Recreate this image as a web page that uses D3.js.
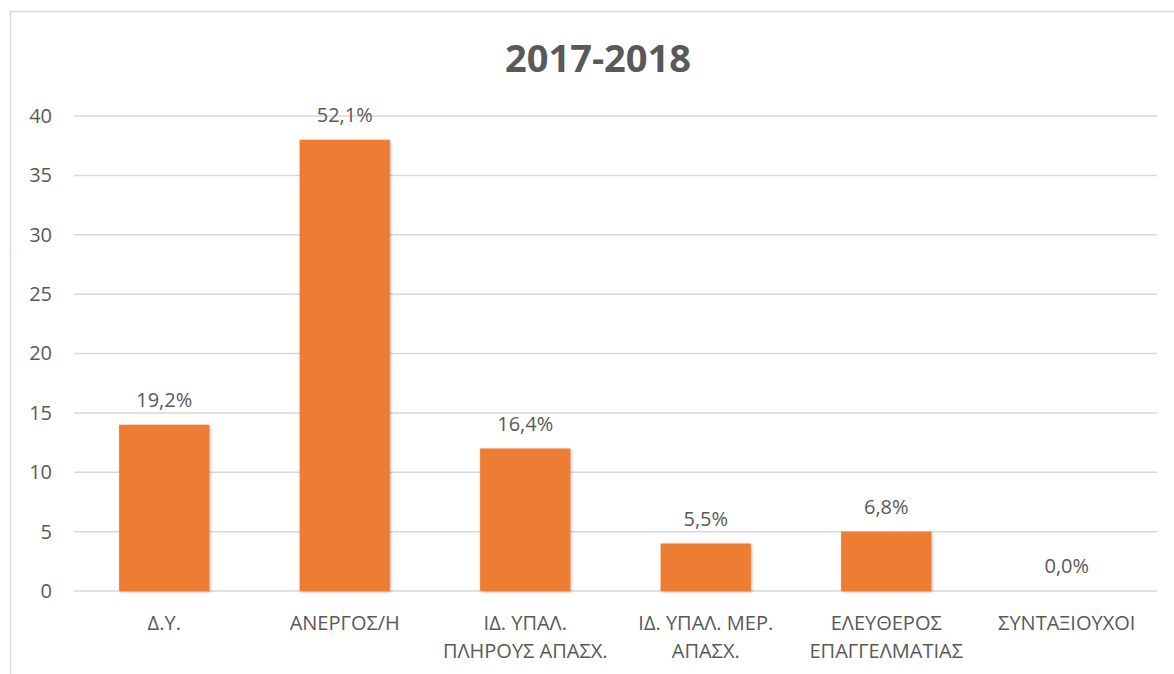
<!DOCTYPE html>
<html>
  <head>
    <meta charset="utf-8">
    <title>2017-2018</title>
    <script src="https://d3js.org/d3.v7.min.js"></script>
    <style>
      body { margin: 0; background: #fff; }
      text { font-family: "Open Sans", "Noto Sans", sans-serif; fill: #595959; }
    </style>
  </head>
  <body>
    <svg width="1174" height="674"></svg>
    <script>
      const categories = [
        ["Δ.Υ."],
        ["ΑΝΕΡΓΟΣ/Η"],
        ["ΙΔ. ΥΠΑΛ.", "ΠΛΗΡΟΥΣ ΑΠΑΣΧ."],
        ["ΙΔ. ΥΠΑΛ. ΜΕΡ.", "ΑΠΑΣΧ."],
        ["ΕΛΕΥΘΕΡΟΣ", "ΕΠΑΓΓΕΛΜΑΤΙΑΣ"],
        ["ΣΥΝΤΑΞΙΟΥΧΟΙ"]
      ];
      const counts = [14, 38, 12, 4, 5, 0];
      const percentLabels = ["19,2%", "52,1%", "16,4%", "5,5%", "6,8%", "0,0%"];
      const yTicks = [0, 5, 10, 15, 20, 25, 30, 35, 40];

      const svg = d3.select("svg");
      const plotLeft = 74, plotRight = 1157, plotTop = 116, plotBottom = 591;

      // chart frame (top and left edges visible)
      svg.append("path")
        .attr("d", "M10.5,674 V11.5 H1174")
        .attr("fill", "none")
        .attr("stroke", "#d9d9d9")
        .attr("stroke-width", 1.5);

      svg.append("text")
        .attr("x", 598).attr("y", 72)
        .attr("text-anchor", "middle")
        .style("font-size", "38px")
        .style("font-weight", "bold")
        .text("2017-2018");

      const x = d3.scaleBand()
        .domain(d3.range(categories.length))
        .range([plotLeft, plotRight])
        .paddingInner(0.5)
        .paddingOuter(0.25);

      const y = d3.scaleLinear().domain([0, 40]).range([plotBottom, plotTop]);

      // gridlines
      svg.append("g").selectAll("line")
        .data(yTicks)
        .join("line")
          .attr("x1", plotLeft).attr("x2", plotRight)
          .attr("y1", d => y(d)).attr("y2", d => y(d))
          .attr("stroke", "#d9d9d9")
          .attr("stroke-width", 1.5);

      // y axis labels
      const yAxis = svg.append("g")
        .attr("transform", `translate(${plotLeft},0)`)
        .call(d3.axisLeft(y).tickValues(yTicks).tickSize(0).tickPadding(22));
      yAxis.select(".domain").remove();
      yAxis.selectAll("text")
        .style("font-size", "20px")
        .style("fill", "#595959")
        .style("font-family", '"Open Sans", "Noto Sans", sans-serif');

      const defs = svg.append("defs");
      const f = defs.append("filter").attr("id", "shadow")
        .attr("x", "-20%").attr("y", "-20%").attr("width", "140%").attr("height", "140%");
      f.append("feDropShadow")
        .attr("dx", 1).attr("dy", 1).attr("stdDeviation", 1.5)
        .attr("flood-color", "#000").attr("flood-opacity", 0.3);

      svg.append("g").selectAll("rect")
        .data(counts)
        .join("rect")
          .attr("x", (d, i) => x(i))
          .attr("width", x.bandwidth())
          .attr("y", d => y(d))
          .attr("height", d => plotBottom - y(d))
          .attr("fill", "#ed7d31")
          .attr("filter", d => d > 0 ? "url(#shadow)" : null);

      // value labels
      svg.append("g").selectAll("text")
        .data(counts)
        .join("text")
          .attr("x", (d, i) => x(i) + x.bandwidth() / 2)
          .attr("y", d => y(d) - 18)
          .attr("text-anchor", "middle")
          .style("font-size", "20px")
          .text((d, i) => percentLabels[i]);

      // category labels
      const cat = svg.append("g").selectAll("text")
        .data(categories)
        .join("text")
          .attr("x", (d, i) => x(i) + x.bandwidth() / 2)
          .attr("y", 630)
          .attr("text-anchor", "middle")
          .style("font-size", "20px");
      cat.selectAll("tspan")
        .data(d => d)
        .join("tspan")
          .attr("x", function() { return this.parentNode.getAttribute("x"); })
          .attr("dy", (d, j) => j === 0 ? 0 : 28)
          .text(d => d);
    </script>
  </body>
</html>
